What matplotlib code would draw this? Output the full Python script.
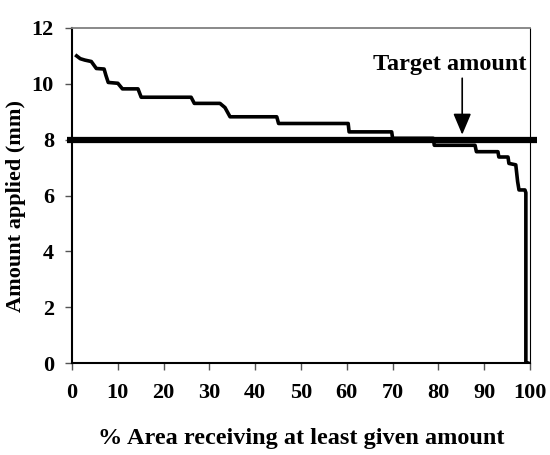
import matplotlib
matplotlib.use("Agg")
import matplotlib.pyplot as plt

# % area vs amount applied (mm)
area = [1.0, 1.8, 2.8, 4.2, 5.3, 7.0, 7.4, 7.9, 10.0, 11.0, 14.4, 15.1, 26.0, 26.7,
        32.3, 33.4, 34.5, 44.7, 45.1, 60.3, 60.5, 69.8, 70.0, 78.9, 79.1, 88.0,
        88.3, 93.0, 93.2, 95.2, 95.4, 96.9, 97.3, 97.6, 98.9, 99.1, 99.1, 99.5]
amount = [11.0, 10.9, 10.85, 10.8, 10.55, 10.53, 10.3, 10.05, 10.02, 9.82, 9.82, 9.52,
          9.52, 9.3, 9.3, 9.15, 8.82, 8.82, 8.58, 8.58, 8.28, 8.28, 8.05, 8.05, 7.8,
          7.8, 7.57, 7.57, 7.38, 7.38, 7.15, 7.1, 6.5, 6.2, 6.2, 6.1, 0.0, 0.0]
target = 8
target_x = 85.2

xticks = list(range(0, 101, 10))
yticks = list(range(0, 13, 2))

plt.rcParams['font.family'] = ['Liberation Serif', 'DejaVu Serif']
plt.rcParams['font.weight'] = 'bold'

fig = plt.figure(figsize=(5.5, 4.55), dpi=100)
ax = fig.add_axes([0.131, 0.202, 0.8326, 0.7365])

ax.plot([-1, 101.6], [target, target], color='black', lw=4.5, clip_on=False,
        solid_capstyle='butt', zorder=3)
ax.plot(area, amount, color='black', lw=2.6, zorder=2, solid_joinstyle='round')

ax.annotate('', xy=(target_x, target + 0.08), xytext=(target_x, 10.3),
            arrowprops=dict(arrowstyle='-|>,head_width=0.55,head_length=1.3',
                            color='black', lw=1.2), zorder=4)
ax.text(82.4, 10.68, 'Target amount', ha='center', va='center',
        fontsize=17.5, fontweight='bold')

ax.set_xlim(0, 100)
ax.set_ylim(0, 12)
ax.set_xticks(xticks)
ax.set_yticks(yticks)
ax.tick_params(axis='both', direction='out', length=5, width=1, color='#555555',
               labelsize=16)
ax.tick_params(axis='x', pad=9)
ax.tick_params(axis='y', pad=8)
for lab in ax.get_xticklabels() + ax.get_yticklabels():
    lab.set_fontweight('bold')

ax.spines['top'].set_color('#808080')
ax.spines['top'].set_linewidth(1.3)
ax.spines['right'].set_color('black')
ax.spines['right'].set_linewidth(0.8)
ax.spines['left'].set_linewidth(1.5)
ax.spines['bottom'].set_linewidth(1.5)

ax.set_xlabel('% Area receiving at least given amount', fontsize=17.5,
              fontweight='bold', labelpad=18)
ax.set_ylabel('Amount applied (mm)', fontsize=16, fontweight='bold')
ax.yaxis.set_label_coords(-0.1, 0.47)

fig.savefig('out.png', dpi=100)
